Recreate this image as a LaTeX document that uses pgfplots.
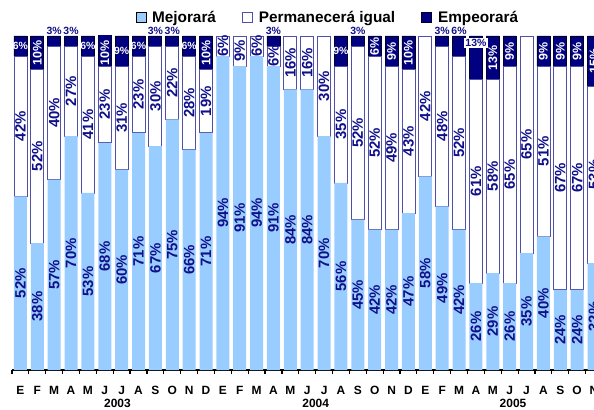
\documentclass[border=0pt]{standalone}
\usepackage{pgfplots}
\pgfplotsset{compat=1.18}
\usepackage{pgfplotstable}
\usepackage{fontspec}
\setmainfont{Liberation Sans}
\definecolor{mej}{HTML}{99CCFF}
\definecolor{navy}{HTML}{000080}
\definecolor{perm}{HTML}{5050A8}
\definecolor{lab}{HTML}{10108A}

\pgfplotstableread{
x M P E
0 52 42 6
1 38 52 10
2 57 40 3
3 70 27 3
4 53 41 6
5 68 23 10
6 60 31 9
7 71 23 6
8 67 30 3
9 75 22 3
10 66 28 6
11 71 19 10
12 94 6 0
13 91 9 0
14 94 6 0
15 91 6 3
16 84 16 0
17 84 16 0
18 70 30 0
19 56 35 9
20 45 52 3
21 42 52 6
22 42 49 9
23 47 43 10
24 58 42 0
25 49 48 3
26 42 52 6
27 26 61 13
28 29 58 13
29 26 65 9
30 35 65 0
31 40 51 9
32 24 67 9
33 24 67 9
34 32 53 15
}\data

% Empeorara labels written above the bar
\pgfplotstableread{
x E
2 3
3 3
8 3
9 3
15 3
20 3
25 3
26 6
}\Eabove

\pgfplotstableread{
x E
27 13
}\Eboxed

% white horizontal labels inside the navy segment
\pgfplotstableread{
x E
0 6
4 6
6 9
7 6
10 6
19 9
}\Ewh

% white rotated labels inside the navy segment
\pgfplotstableread{
x E
1 10
5 10
11 10
21 6
22 9
23 10
28 13
29 9
31 9
32 9
33 9
34 15
}\Ewr

\begin{document}
\begin{tikzpicture}[x=1bp,y=1bp]
\path[use as bounding box] (0,0) rectangle (594,409);
\pgfplotsset{common/.style={
  scale only axis, width=582bp, height=334bp,
  at={(12bp,39bp)}, anchor=south west,
  xmin=-0.5, xmax=34, ymin=0, ymax=100,
}}
\begin{axis}[common,
  ybar stacked, bar width=13bp,
  axis x line=bottom, axis y line=none,
  axis line style={-, line width=1.3bp, black},
  xtick={0,...,34},
  xticklabels={E,F,M,A,M,J,J,A,S,O,N,D,E,F,M,A,M,J,J,A,S,O,N,D,E,F,M,A,M,J,J,A,S,O,N},
  major tick length=0pt,
  minor xtick={-0.5,0.5,...,33.5},
  minor tick length=4bp,
  xtick align=outside,
  minor tick style={black, line width=1.2bp},
  xticklabel style={font=\fontsize{12}{12}\selectfont\bfseries, yshift=-13bp},
  legend style={at={(0.543,1.055)}, anchor=center, draw=none, fill=none,
    legend columns=-1, font=\fontsize{15.4}{16}\selectfont\bfseries,
    /tikz/every even column/.append style={column sep=24bp}},
  legend image code/.code={\draw[#1] (0bp,-5bp) rectangle (10bp,5bp); \path (14bp,0bp);},
]
\addplot[fill=mej, draw=none] table[x=x, y=M]{\data};
\addlegendentry{Mejorará}
\addplot[fill=white, draw=perm, line width=0.8bp] table[x=x, y=P]{\data};
\addlegendentry{Permanecerá igual}
\addplot[fill=navy, draw=black!70!navy, line width=0.8bp] table[x=x, y=E]{\data};
\addlegendentry{Empeorará}
\end{axis}

\begin{axis}[common, hide axis, clip=false]
% year labels
\node[font=\fontsize{12}{12}\selectfont\bfseries, anchor=base] at (axis cs:5.75,-11.2) {2003};
\node[font=\fontsize{12}{12}\selectfont\bfseries, anchor=base] at (axis cs:17.5,-11.2) {2004};
\node[font=\fontsize{12}{12}\selectfont\bfseries, anchor=base] at (axis cs:29.2,-11.2) {2005};
% Mejorara labels
\addplot[draw=none, mark=none, nodes near coords={\pgfplotspointmeta\%}, point meta=explicit symbolic,
  every node near coord/.style={rotate=90, anchor=center, inner sep=0pt,
  font=\fontsize{15}{15}\selectfont\bfseries, text=lab}]
  table[x=x, y expr=\thisrow{M}/2, meta=M]{\data};
% Permanecera labels
\addplot[draw=none, mark=none, nodes near coords={\pgfplotspointmeta\%}, point meta=explicit symbolic,
  every node near coord/.style={rotate=90, anchor=center, inner sep=0pt,
  font=\fontsize{15}{15}\selectfont\bfseries, text=lab}]
  table[x=x, y expr=\thisrow{M}+\thisrow{P}/2, meta=P]{\data};
% Empeorara labels above bars
\addplot[draw=none, mark=none, nodes near coords={\pgfplotspointmeta\%}, point meta=explicit symbolic,
  every node near coord/.style={anchor=center, inner sep=0pt,
  font=\fontsize{10.5}{10.5}\selectfont\bfseries, text=lab}]
  table[x=x, y expr=101.6, meta=E]{\Eabove};
\addplot[draw=none, mark=none, nodes near coords={\pgfplotspointmeta\%}, point meta=explicit symbolic,
  every node near coord/.style={anchor=center, inner sep=1.2bp, fill=white,
  font=\fontsize{10.5}{10.5}\selectfont\bfseries, text=lab}]
  table[x=x, y expr=97.9, meta=E]{\Eboxed};
% white horizontal
\addplot[draw=none, mark=none, nodes near coords={\pgfplotspointmeta\%}, point meta=explicit symbolic,
  every node near coord/.style={anchor=center, inner sep=0pt,
  font=\fontsize{10.5}{10.5}\selectfont\bfseries, text=white}]
  table[x=x, y expr=100-\thisrow{E}/2, meta=E]{\Ewh};
% white rotated
\addplot[draw=none, mark=none, nodes near coords={\pgfplotspointmeta\%}, point meta=explicit symbolic,
  every node near coord/.style={rotate=90, anchor=center, inner sep=0pt,
  font=\fontsize{12.5}{12.5}\selectfont\bfseries, text=white}]
  table[x=x, y expr=100-\thisrow{E}/2, meta=E]{\Ewr};
\end{axis}
\end{tikzpicture}
\end{document}
